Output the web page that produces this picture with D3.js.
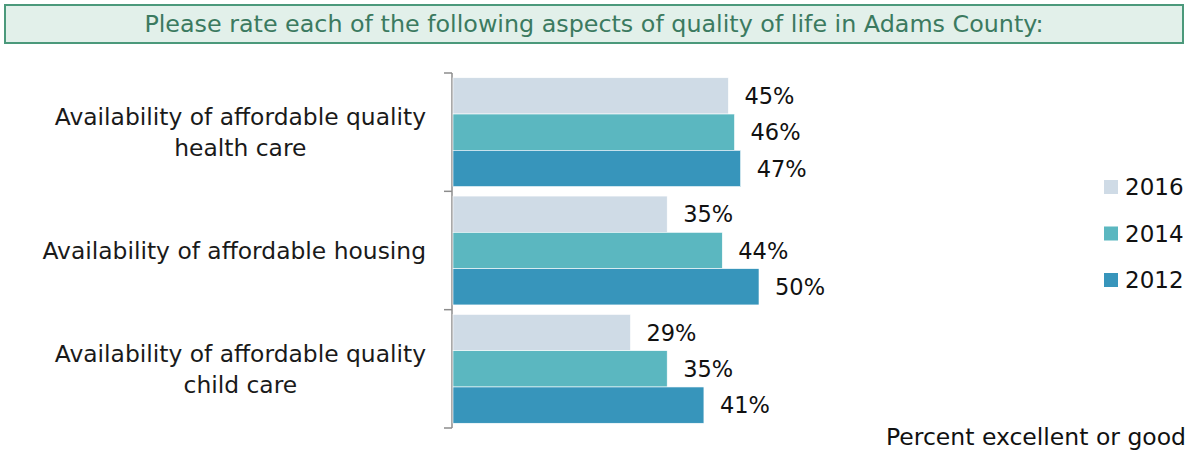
<!DOCTYPE html>
<html lang="en">
<head>
<meta charset="UTF-8">
<title>Quality of life in Adams County</title>
<style>
body { margin: 0; background: #fff; }
text { font-family: "DejaVu Sans", sans-serif; }
</style>
</head>
<body>
<svg width="1188" height="451"></svg>
<script src="https://cdn.jsdelivr.net/npm/d3@7"></script>
<script>
var categories = [
    ["Availability of affordable quality", "health care"],
    ["Availability of affordable housing"],
    ["Availability of affordable quality", "child care"]
];
var years = ["2016", "2014", "2012"];
var values2016 = [45, 35, 29];
var values2014 = [46, 44, 35];
var values2012 = [47, 50, 41];
var colors = ["#cfdbe6", "#5bb7c0", "#3795bb"];

var series = [values2016, values2014, values2012];

var svg = d3.select("svg");

// title box
svg.append("rect")
    .attr("x", 5).attr("y", 5)
    .attr("width", 1178).attr("height", 38)
    .attr("fill", "#e2f0ea")
    .attr("stroke", "#4b997b")
    .attr("stroke-width", 2);
svg.append("text")
    .attr("x", 594).attr("y", 32)
    .attr("text-anchor", "middle")
    .attr("fill", "#3b7a60")
    .style("font-size", "23.8px")
    .text("Please rate each of the following aspects of quality of life in Adams County:");

var y = d3.scaleBand()
    .domain(d3.range(categories.length))
    .range([73, 428])
    .paddingInner(0.08)
    .paddingOuter(0.04);

var ySub = d3.scaleBand()
    .domain(d3.range(years.length))
    .range([0, y.bandwidth()]);

var x = d3.scaleLinear().domain([0, 100]).range([453, 1065]);

// axis with ticks between categories
var axisG = svg.append("g");
axisG.append("line")
    .attr("x1", 452).attr("x2", 452)
    .attr("y1", 73).attr("y2", 428)
    .attr("stroke", "#8c8c8c").attr("stroke-width", 1.5);
var tickYs = d3.range(categories.length + 1).map(function(i) {
    return 73 + i * (428 - 73) / categories.length;
});
axisG.selectAll("line.tick")
    .data(tickYs)
    .enter().append("line")
    .attr("class", "tick")
    .attr("x1", 444).attr("x2", 452)
    .attr("y1", function(d) { return d; })
    .attr("y2", function(d) { return d; })
    .attr("stroke", "#8c8c8c").attr("stroke-width", 1.5);

var groups = svg.selectAll("g.cat")
    .data(categories)
    .enter().append("g")
    .attr("class", "cat")
    .attr("transform", function(d, i) { return "translate(0," + y(i) + ")"; });

groups.each(function(cat, ci) {
    var g = d3.select(this);
    series.forEach(function(vals, si) {
        g.append("rect")
            .attr("x", x(0))
            .attr("y", ySub(si))
            .attr("width", x(vals[ci]) - x(0))
            .attr("height", ySub.bandwidth())
            .attr("fill", colors[si])
            .attr("stroke", "#fff")
            .attr("stroke-width", 0.6);
        g.append("text")
            .attr("x", x(vals[ci]) + 16)
            .attr("y", ySub(si) + ySub.bandwidth() / 2)
            .attr("dy", "0.36em")
            .attr("fill", "#111")
            .style("font-size", "22.5px")
            .text(vals[ci] + "%");
    });
    // wrapped labels are centred on each other, right edge at 426
    var t = g.append("text")
        .attr("text-anchor", "middle")
        .attr("fill", "#1a1a1a")
        .style("font-size", "23.4px");
    var lh = 31;
    var y0 = y.bandwidth() / 2 - (cat.length - 1) * lh / 2;
    var spans = cat.map(function(line, li) {
        return t.append("tspan")
            .attr("y", y0 + li * lh)
            .attr("dy", "0.36em")
            .text(line);
    });
    var maxW = d3.max(spans, function(s) { return s.node().getComputedTextLength(); });
    spans.forEach(function(s) { s.attr("x", 426 - maxW / 2); });
});

// legend
var legend = svg.selectAll("g.legend")
    .data(years)
    .enter().append("g")
    .attr("class", "legend")
    .attr("transform", function(d, i) { return "translate(1104," + (187 + i * 46.5) + ")"; });
legend.append("rect")
    .attr("x", 0).attr("y", -7)
    .attr("width", 14).attr("height", 14)
    .attr("fill", function(d, i) { return colors[i]; });
legend.append("text")
    .attr("x", 21).attr("dy", "0.36em")
    .attr("fill", "#111")
    .style("font-size", "23px")
    .text(function(d) { return d; });

svg.append("text")
    .attr("x", 1186).attr("y", 445)
    .attr("text-anchor", "end")
    .attr("fill", "#111")
    .style("font-size", "23.5px")
    .text("Percent excellent or good");
</script>
</body>
</html>
